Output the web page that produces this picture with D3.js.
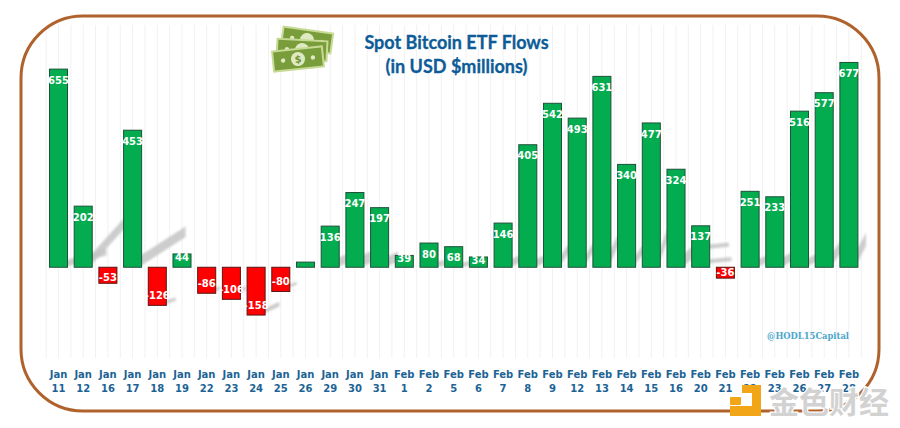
<!DOCTYPE html>
<html>
<head>
<meta charset="utf-8">
<script src="https://cdn.jsdelivr.net/npm/d3@7"></script>
<style>
  html, body { margin: 0; padding: 0; background: #fff; }
</style>
</head>
<body>
<svg id="chart" width="900" height="428"></svg>
<script>
var months = ["Jan","Jan","Jan","Jan","Jan","Jan","Jan","Jan","Jan","Jan","Jan","Jan","Jan","Jan",
  "Feb","Feb","Feb","Feb","Feb","Feb","Feb","Feb","Feb","Feb","Feb","Feb","Feb","Feb","Feb","Feb","Feb","Feb","Feb"];
var days = [11,12,16,17,18,19,22,23,24,25,26,29,30,31,1,2,5,6,7,8,9,12,13,14,15,16,20,21,22,23,26,27,28];
var flows = [655,202,-53,453,-126,44,-86,-106,-158,-80,17,136,247,197,39,80,68,34,146,405,542,493,631,340,477,324,137,-36,251,233,516,577,677];
// Jan 26 has no printed number in the picture
var hiddenLabels = ["Jan 26"];
// grey smears behind the bars: [category, base flow, reach in bands, rise in flow, thickness in flow]
var smears = [
  ["Jan 11",0,1.7,40,22],["Jan 12",0,1.5,135,35],["Jan 17",0,1.9,100,35],
  ["Jan 18",-125,0.5,14,12],["Jan 22",-80,0.3,6,10],["Jan 23",-90,0.35,14,14],["Jan 24",-155,0.7,25,16],["Jan 25",-70,0.4,12,10],
  ["Jan 29",0,0.4,12,30],["Jan 30",0,0.4,15,38],["Jan 31",0,0.5,20,32],["Feb 2",0,0.4,6,18],["Feb 5",0,0.4,6,14],
  ["Feb 7",0,0.45,15,25],["Feb 8",0,0.45,15,25],["Feb 9",0,0.45,50,30],["Feb 12",0,0.45,55,30],["Feb 13",0,0.45,75,40],
  ["Feb 14",0,0.45,45,30],["Feb 15",0,0.45,95,40],["Feb 16",0,0.45,30,40],["Feb 20",60,0.9,8,14],["Feb 20",12,1.0,8,14],
  ["Feb 22",0,0.45,15,25],["Feb 23",0,0.45,20,30],["Feb 26",0,0.45,20,25],["Feb 27",0,0.45,50,40],["Feb 28",0,0.45,70,45]
];

var svg = d3.select("#chart");
var categories = months.map((m, i) => m + " " + days[i]);

var x = d3.scaleBand().domain(categories).range([46.15, 861.25]).paddingInner(0.27).paddingOuter(0.135);
var y = d3.scaleLinear().domain([-300, 700]).range([358, 55.5]);

svg.append("defs").append("filter").attr("id", "blur")
  .append("feGaussianBlur").attr("stdDeviation", 1.3);

///////////////// GRID /////////////////
var gridLines = [];
categories.forEach((c) => {
  gridLines.push(x(c) + x.bandwidth() / 2);
  gridLines.push(x(c) + x.bandwidth() / 2 - x.step() / 2);
});
gridLines.push(x(categories[32]) + x.bandwidth() / 2 + x.step() / 2);
svg.append("g").selectAll("line").data(gridLines).join("line")
  .attr("x1", d => d).attr("x2", d => d)
  .attr("y1", 25).attr("y2", y(-300))
  .attr("stroke", "#f1f1f1").attr("stroke-width", 1);

///////////////// SHADOWS /////////////////
svg.append("g").attr("filter", "url(#blur)").selectAll("path").data(smears).join("path")
  .attr("fill", "#c4c4c4")
  .attr("opacity", 0.85)
  .attr("d", (d) => {
    var x0 = x(d[0]) + x.bandwidth() - 3;
    var x1 = x0 + d[2] * x.step();
    return d3.line()([
      [x0, y(d[1])],
      [x1, y(d[1] + d[3])],
      [x1, y(d[1] + d[3] + d[4])],
      [x0, y(d[1] + d[4])]
    ]) + "Z";
  });

///////////////// BARS /////////////////
svg.append("g").selectAll("rect").data(flows).join("rect")
  .attr("x", (d, i) => x(categories[i]))
  .attr("width", x.bandwidth())
  .attr("y", d => Math.min(y(d), y(0)))
  .attr("height", d => Math.abs(y(d) - y(0)))
  .attr("fill", d => d < 0 ? "#fe0000" : "#04ac50")
  .attr("stroke", d => d < 0 ? "#5c1414" : "#1c5238")
  .attr("stroke-width", 1);

svg.append("g").selectAll("text").data(flows).join("text")
  .attr("x", (d, i) => x(categories[i]) + x.bandwidth() / 2)
  .attr("y", (d) => {
    if (d < 0) return Math.abs(d) < 60 ? y(d) - 6 : y(d) - 10;
    return d < 50 ? y(d) + 3 : y(d) + 11;
  })
  .attr("dy", "0.36em")
  .attr("text-anchor", "middle")
  .attr("fill", "#fff")
  .attr("font-family", "'DejaVu Sans'")
  .attr("font-weight", "bold")
  .attr("font-size", 10)
  .text((d, i) => hiddenLabels.includes(categories[i]) ? "" : d);

///////////////// X AXIS /////////////////
var axis = svg.append("g")
  .attr("transform", "translate(0,366)")
  .call(d3.axisBottom(x).tickSize(0).tickPadding(0).tickFormat(""));
axis.select(".domain").remove();
axis.selectAll(".tick text").remove();
axis.selectAll(".tick").data(categories).each(function(c, i) {
  var t = d3.select(this).append("text")
    .attr("text-anchor", "middle")
    .attr("fill", "#1c6395")
    .attr("font-family", "'DejaVu Sans'")
    .attr("font-weight", "bold")
    .attr("font-size", 10);
  t.append("tspan").attr("x", 0).attr("y", 11.5).text(months[i]);
  t.append("tspan").attr("x", 0).attr("y", 26).text(days[i]);
});

///////////////// BORDER /////////////////
svg.append("rect")
  .attr("x", 21).attr("y", 16).attr("width", 858).attr("height", 395)
  .attr("rx", 62).attr("ry", 62)
  .attr("fill", "none").attr("stroke", "#b0622c").attr("stroke-width", 3);

///////////////// TITLE /////////////////
var title = svg.append("text")
  .attr("text-anchor", "middle")
  .attr("fill", "#0d5c97")
  .attr("stroke", "#0d5c97")
  .attr("stroke-width", 0.3)
  .attr("font-family", "Lato")
  .attr("font-weight", "bold")
  .attr("font-size", 18);
title.append("tspan").attr("x", 456.5).attr("y", 49).text("Spot Bitcoin ETF Flows");
title.append("tspan").attr("x", 456.5).attr("y", 73).text("(in USD $millions)");

svg.append("text")
  .attr("x", 849).attr("y", 338.5)
  .attr("text-anchor", "end")
  .attr("fill", "#4ba6cb")
  .attr("font-family", "'DejaVu Serif'")
  .attr("font-weight", "bold")
  .attr("font-size", 8.4)
  .text("@HODL15Capital");

///////////////// MONEY ICON /////////////////
function bill(cx, cy, angle, showSign) {
  var g = svg.append("g").attr("transform", "translate(" + cx + "," + cy + ") rotate(" + angle + ")");
  g.append("rect").attr("x", -26).attr("y", -11).attr("width", 52).attr("height", 22).attr("fill", "#c6da94");
  g.append("rect").attr("x", -24).attr("y", -9).attr("width", 48).attr("height", 18).attr("fill", "#7a9d3c");
  g.append("circle").attr("r", 7).attr("fill", "#dfe9c2");
  g.append("circle").attr("cx", -15).attr("r", 2.2).attr("fill", "#dfe9c2");
  g.append("circle").attr("cx", 15).attr("r", 2.2).attr("fill", "#dfe9c2");
  if (showSign) {
    g.append("text").attr("text-anchor", "middle").attr("dy", "0.36em")
      .attr("fill", "#6f9236").attr("font-family", "'DejaVu Sans'").attr("font-weight", "bold")
      .attr("font-size", 10).text("$");
  }
}
bill(307, 40, 8, false);
bill(302, 50, 3, false);
bill(298, 59, -6, true);

///////////////// WATERMARK /////////////////
svg.append("text")
  .attr("x", 769).attr("y", 413)
  .attr("fill", "#d2d2d2")
  .attr("stroke", "#fff")
  .attr("stroke-width", 2.5)
  .attr("paint-order", "stroke")
  .attr("font-family", "'Noto Sans CJK SC'")
  .attr("font-weight", "bold")
  .attr("font-size", 30)
  .text("金色财经");

var logo = svg.append("g").attr("fill", "#f2a516");
logo.append("path").attr("d", "M742 385 H761 V416 H730 V406 H752 V393 H742 Z");
logo.append("rect").attr("x", 730).attr("y", 397).attr("width", 11).attr("height", 8).attr("rx", 1);
</script>
</body>
</html>
